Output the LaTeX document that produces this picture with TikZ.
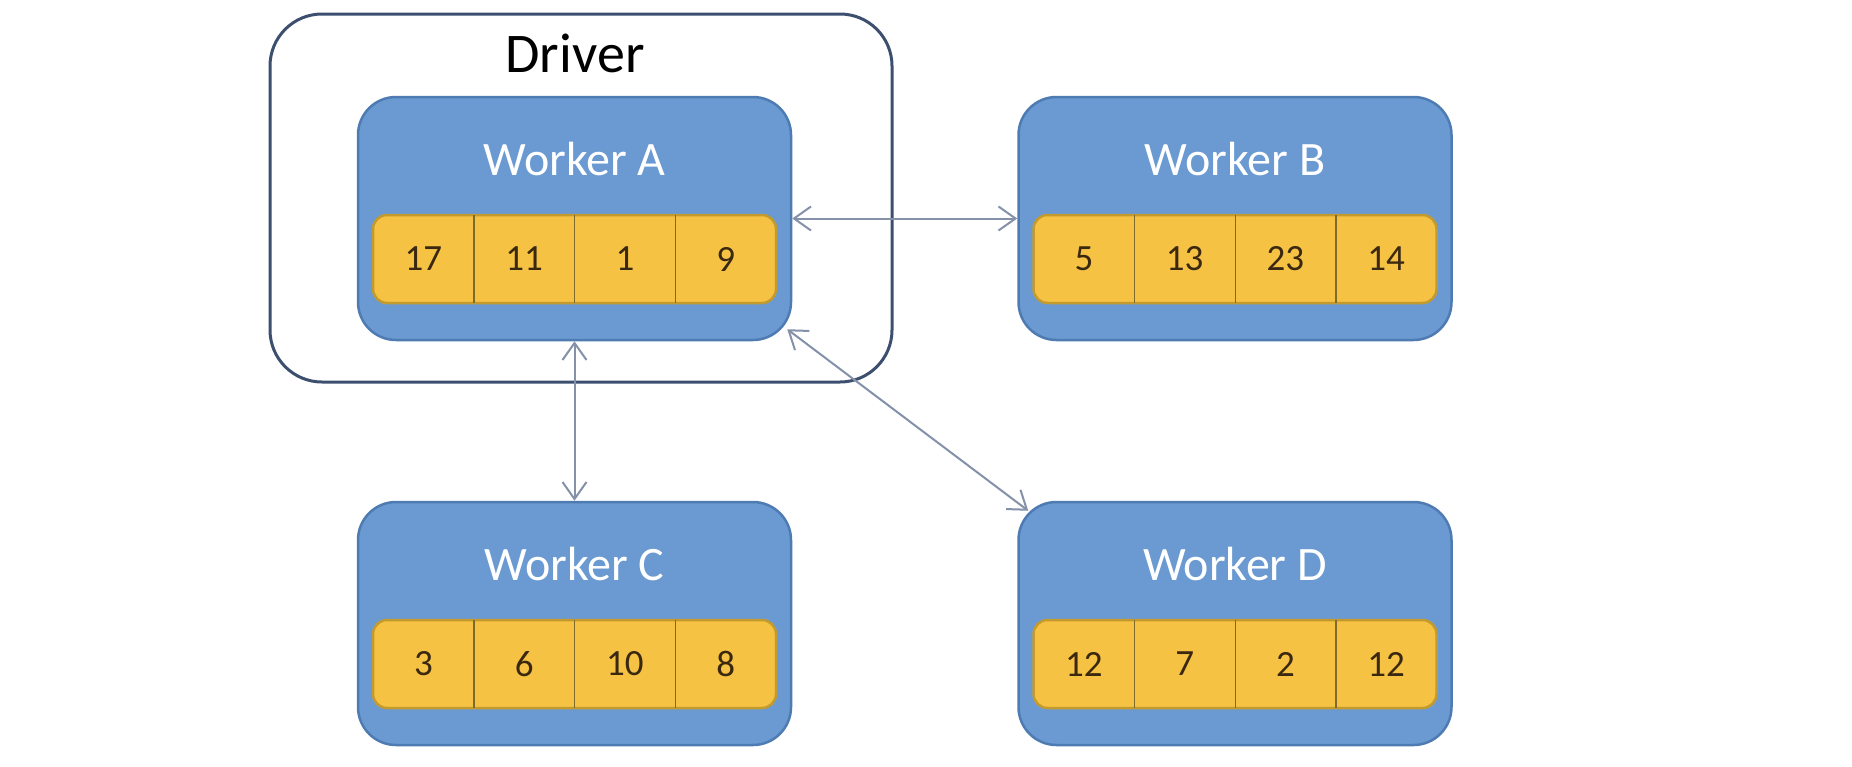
\documentclass[tikz,border=0pt]{standalone}
\usepackage{fontspec}
\setmainfont{Carlito}
\usetikzlibrary{arrows.meta,calc}
\definecolor{wfill}{HTML}{6A9AD1}
\definecolor{wborder}{HTML}{4F7BB3}
\definecolor{yfill}{HTML}{F5C243}
\definecolor{yborder}{HTML}{C29A2E}
\definecolor{divcol}{HTML}{7F6A2E}
\definecolor{numcol}{HTML}{3A2810}
\definecolor{drvcol}{HTML}{3D4F6F}
\definecolor{arrowcol}{HTML}{8491A9}
\newcommand\lblfont{\fontsize{48}{56}\selectfont}
\newcommand\numfont{\fontsize{37}{44}\selectfont}
\newcommand\drvfont{\fontsize{56}{64}\selectfont}
\tikzset{
  workerbox/.style={draw=wborder, fill=wfill, line width=2.5pt, rounded corners=38pt,
    minimum width=433pt, minimum height=243pt, inner sep=0pt},
  barbox/.style={draw=yborder, fill=yfill, line width=2.5pt, rounded corners=14pt,
    minimum width=403pt, minimum height=88pt, inner sep=0pt},
  cellbox/.style={minimum width=100.75pt, minimum height=88pt, inner sep=0pt,
    font=\numfont, text=numcol},
  wlabel/.style={font=\lblfont, text=white, inner sep=0pt},
  divider/.style={draw=divcol, line width=1.3pt},
  drvbox/.style={draw=drvcol, line width=3pt, rounded corners=52pt,
    minimum width=622pt, minimum height=368pt, inner sep=0pt},
  link/.style={draw=arrowcol, line width=2pt,
    {Straight Barb[length=17pt,width=24pt]}-{Straight Barb[length=17pt,width=24pt]}}
}
\newcommand\mkworker[8]{%
  \node[workerbox] (#1) at (#2,#3) {};
  \node[wlabel] (#1l) at (#2,#3-59.5) {#4};
  \node[barbox] (#1bar) at (#2,#3+40.5) {};
  \node[cellbox] (#1c1) at (#2-151.125,#3+40.5) {#5};
  \node[cellbox] (#1c2) at (#2-50.375,#3+40.5) {#6};
  \node[cellbox] (#1c3) at (#2+50.375,#3+40.5) {#7};
  \node[cellbox] (#1c4) at (#2+151.125,#3+40.5) {#8};
  \draw[divider] (#1c1.north east) -- (#1c1.south east);
  \draw[divider] (#1c2.north east) -- (#1c2.south east);
  \draw[divider] (#1c3.north east) -- (#1c3.south east);
}
\begin{document}
\begin{tikzpicture}[x=1pt,y=-1pt]
\fill[white] (0,0) rectangle (1852,766);
\useasboundingbox (0,0) rectangle (1852,766);
\node[drvbox] (driver) at (581,198) {};
\node[font=\drvfont, anchor=base, inner sep=0pt] (drvl) at (575,72) {Driver};
\mkworker{A}{574.5}{218.5}{Worker A}{17}{11}{1}{9}
\mkworker{B}{1235}{218.5}{Worker B}{5}{13}{23}{14}
\mkworker{C}{574.5}{623.5}{Worker C}{3}{6}{10}{8}
\mkworker{D}{1235}{623.5}{Worker D}{12}{7}{2}{12}
\draw[link] (A.east) -- (B.west);
\draw[link] (A.south) -- (C.north);
\draw[link] ($(A.south east)+(-5,-12)$) -- ($(D.north west)+(11,10)$);
\end{tikzpicture}
\end{document}
